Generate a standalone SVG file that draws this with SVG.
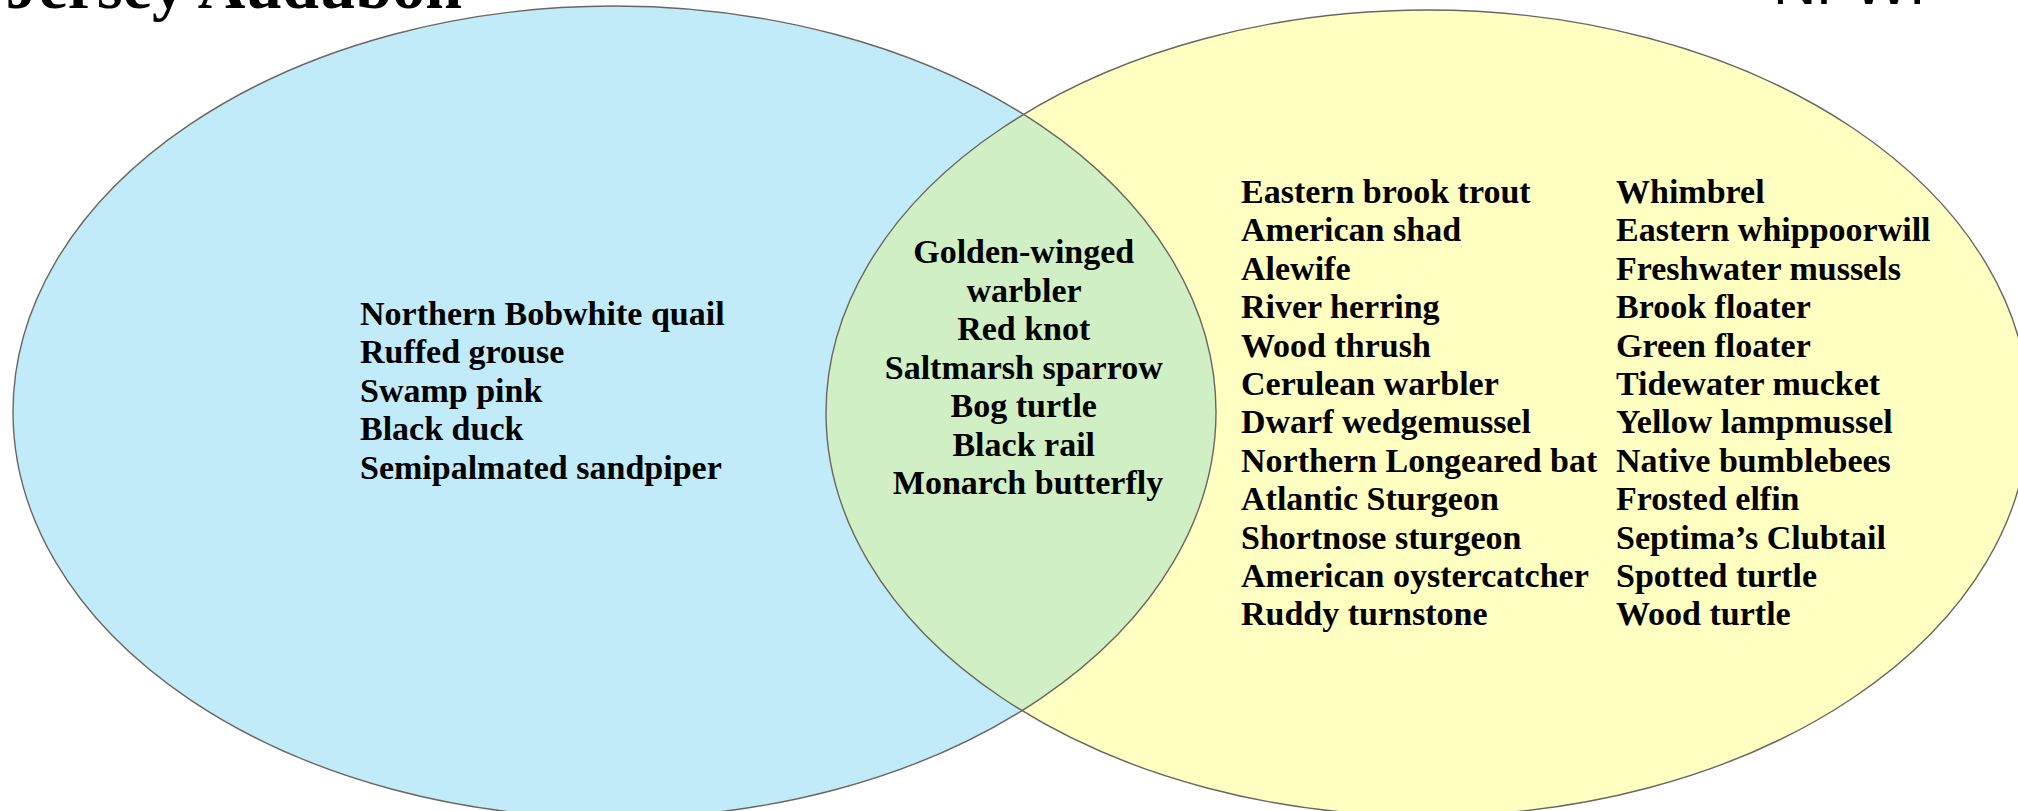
<svg xmlns="http://www.w3.org/2000/svg" width="2018" height="811" viewBox="0 0 2018 811">
  <style>
    .lbl { font-family: "Liberation Serif", "Times New Roman", serif; font-weight: bold; font-size: 34px; fill: #000; }
    .mid { text-anchor: middle; }
    .outline { fill: none; stroke: #6b6660; stroke-width: 1.4; }
    .title { font-family: "Liberation Serif", "Times New Roman", serif; font-weight: bold; font-size: 66px; fill: #000; }
    .title2 { font-family: "Liberation Sans", Arial, sans-serif; font-size: 60px; fill: #000; }
  </style>
  <defs>
    <clipPath id="leftClip">
      <ellipse cx="614.5" cy="412" rx="601.5" ry="406"/>
    </clipPath>
  </defs>
  <rect x="0" y="0" width="2018" height="811" fill="#ffffff"/>

  <g id="titles">
    <text class="title" x="462" y="8" text-anchor="end">Jersey Audubon</text>
    <text class="title2" x="1773" y="4">NFWF</text>
  </g>

  <g id="set-left">
    <ellipse cx="614.5" cy="412" rx="601.5" ry="406" fill="#c2ebf9"/>
  </g>
  <g id="set-right">
    <ellipse cx="1427.5" cy="413" rx="601.5" ry="403" fill="#ffffc2"/>
  </g>
  <g id="set-overlap">
    <ellipse cx="1427.5" cy="413" rx="601.5" ry="403" fill="#d0efc4" clip-path="url(#leftClip)"/>
  </g>
  <g id="outlines">
    <ellipse class="outline" cx="614.5" cy="412" rx="601.5" ry="406"/>
    <ellipse class="outline" cx="1427.5" cy="413" rx="601.5" ry="403"/>
  </g>

  <g id="left-labels">
    <text class="lbl" x="360" y="325">
      <tspan x="360" y="325">Northern Bobwhite quail</tspan>
      <tspan x="360" y="363.4">Ruffed grouse</tspan>
      <tspan x="360" y="401.8">Swamp pink</tspan>
      <tspan x="360" y="440.2">Black duck</tspan>
      <tspan x="360" y="478.6">Semipalmated sandpiper</tspan>
    </text>
  </g>

  <g id="overlap-labels">
    <text class="lbl mid" x="1028" y="263">
      <tspan x="1028" y="263">Golden-winged</tspan>
      <tspan x="1028" y="301.5">warbler</tspan>
      <tspan x="1028" y="340">Red knot</tspan>
      <tspan x="1028" y="378.5">Saltmarsh sparrow</tspan>
      <tspan x="1028" y="417">Bog turtle</tspan>
      <tspan x="1028" y="455.5">Black rail</tspan>
      <tspan x="1028" y="494">Monarch butterfly</tspan>
    </text>
  </g>

  <g id="right-labels-col1">
    <text class="lbl" x="1241" y="203">
      <tspan x="1241" y="203">Eastern brook trout</tspan>
      <tspan x="1241" y="241.4">American shad</tspan>
      <tspan x="1241" y="279.8">Alewife</tspan>
      <tspan x="1241" y="318.2">River herring</tspan>
      <tspan x="1241" y="356.6">Wood thrush</tspan>
      <tspan x="1241" y="395">Cerulean warbler</tspan>
      <tspan x="1241" y="433.4">Dwarf wedgemussel</tspan>
      <tspan x="1241" y="471.8">Northern Longeared bat</tspan>
      <tspan x="1241" y="510.2">Atlantic Sturgeon</tspan>
      <tspan x="1241" y="548.6">Shortnose sturgeon</tspan>
      <tspan x="1241" y="587">American oystercatcher</tspan>
      <tspan x="1241" y="625.4">Ruddy turnstone</tspan>
    </text>
  </g>

  <g id="right-labels-col2">
    <text class="lbl" x="1616" y="203">
      <tspan x="1616" y="203">Whimbrel</tspan>
      <tspan x="1616" y="241.4">Eastern whippoorwill</tspan>
      <tspan x="1616" y="279.8">Freshwater mussels</tspan>
      <tspan x="1616" y="318.2">Brook floater</tspan>
      <tspan x="1616" y="356.6">Green floater</tspan>
      <tspan x="1616" y="395">Tidewater mucket</tspan>
      <tspan x="1616" y="433.4">Yellow lampmussel</tspan>
      <tspan x="1616" y="471.8">Native bumblebees</tspan>
      <tspan x="1616" y="510.2">Frosted elfin</tspan>
      <tspan x="1616" y="548.6">Septima’s Clubtail</tspan>
      <tspan x="1616" y="587">Spotted turtle</tspan>
      <tspan x="1616" y="625.4">Wood turtle</tspan>
    </text>
  </g>
</svg>
